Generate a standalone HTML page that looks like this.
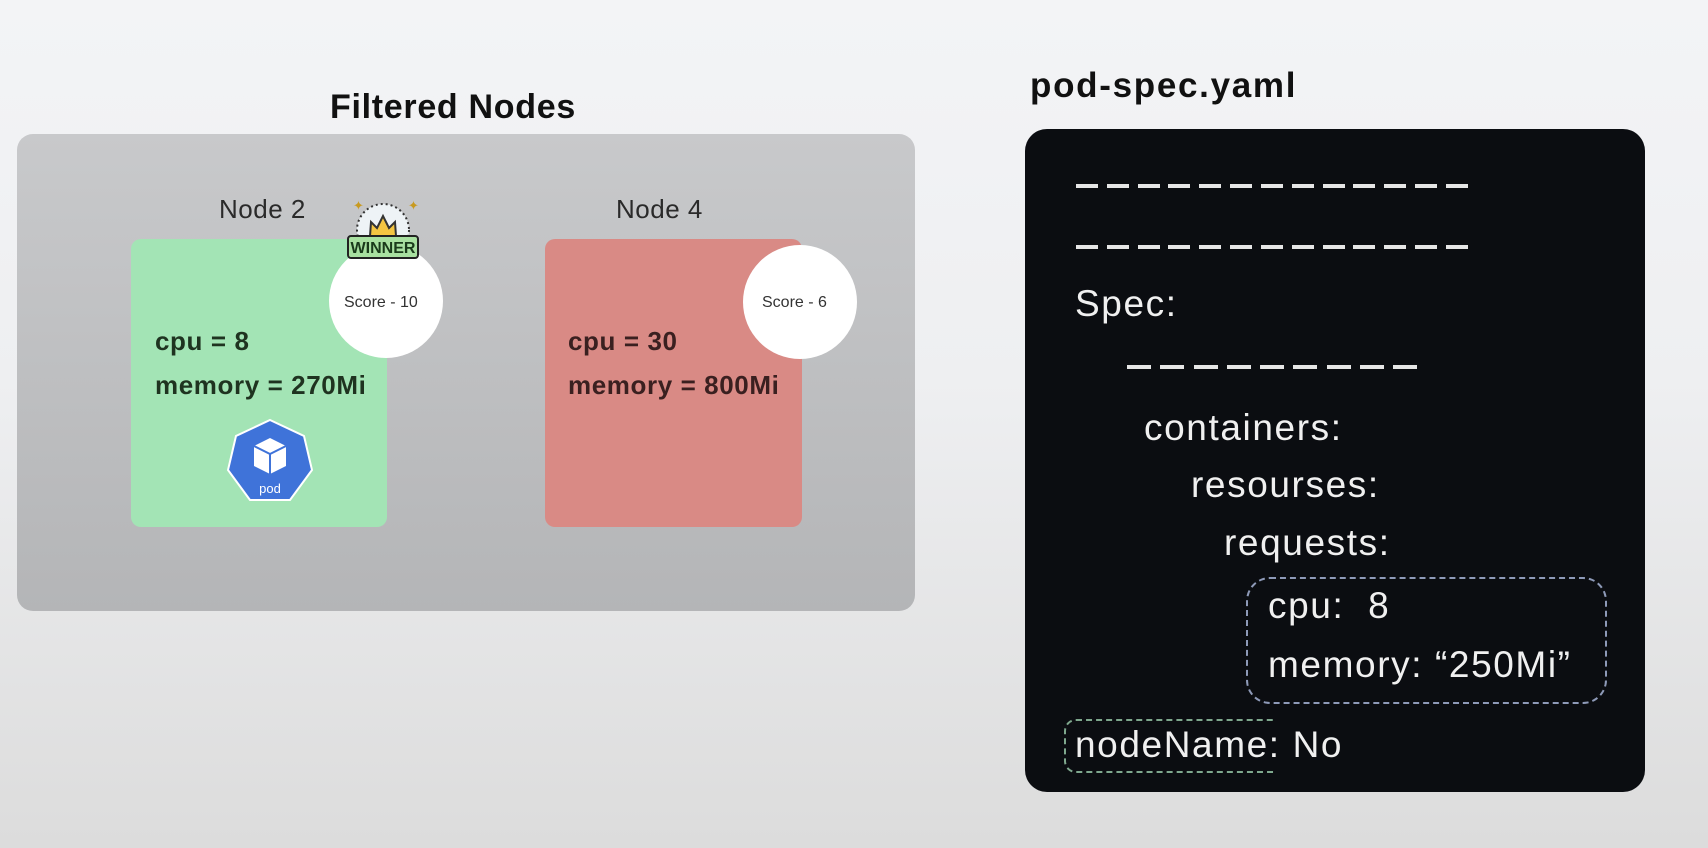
<!DOCTYPE html>
<html><head><meta charset="utf-8"><style>
*{margin:0;padding:0;box-sizing:border-box}
body{width:1708px;height:848px;overflow:hidden;position:relative;font-family:"Liberation Sans",sans-serif;background:linear-gradient(180deg,#f3f4f6 0%,#eeeff1 45%,#dcdcdc 100%)}
.abs{position:absolute}
.t{position:absolute;white-space:nowrap;line-height:1}
.dash{position:absolute;height:4px;display:flex;justify-content:space-between}
.dash i{display:block;height:4px;background:#e6e6e6}
.w{color:#f0f0f0;font-size:37px;letter-spacing:1.6px}
</style></head><body>
<div class="t" style="left:330px;top:90px;font-size:34px;font-weight:bold;color:#111;letter-spacing:0.7px">Filtered Nodes</div>
<div class="abs" style="left:17px;top:134px;width:898px;height:477px;border-radius:16px;background:linear-gradient(180deg,#c8c9cb,#b4b5b7)"></div>
<div class="t" style="left:219px;top:196px;font-size:26px;color:#2a2a2a;letter-spacing:0.5px">Node 2</div>
<div class="t" style="left:616px;top:196px;font-size:26px;color:#2a2a2a;letter-spacing:0.5px">Node 4</div>
<div class="abs" style="left:131px;top:239px;width:256px;height:288px;border-radius:10px;background:#a3e4b5"></div>
<div class="abs" style="left:545px;top:239px;width:257px;height:288px;border-radius:10px;background:#d98a85"></div>
<div class="abs" style="left:329px;top:244px;width:114px;height:114px;border-radius:50%;background:#fff"></div>
<div class="abs" style="left:743px;top:245px;width:114px;height:114px;border-radius:50%;background:#fff"></div>
<div class="t" style="left:344px;top:295px;font-size:16px;color:#333">Score - 10</div>
<div class="t" style="left:762px;top:295px;font-size:16px;color:#333">Score - 6</div>
<svg class="abs" style="left:345px;top:194px" width="82" height="70">
<circle cx="38" cy="36" r="26" fill="#eef3f6" stroke="#333" stroke-width="2" stroke-dasharray="2 3"/>
<path d="M25 42 L26 28 L32 34 L38 22 L44 34 L50 28 L51 42 Z" fill="#f4c542" stroke="#333" stroke-width="2"/>
<rect x="3" y="42" width="70" height="22" rx="3" fill="#a8e0a0" stroke="#222" stroke-width="2"/>
<text x="38" y="59" text-anchor="middle" font-family="Liberation Sans" font-weight="bold" font-size="16" fill="#1a3a1a">WINNER</text>
<text x="8" y="16" font-size="13" fill="#c89a20">✦</text><text x="63" y="16" font-size="13" fill="#c89a20">✦</text>
</svg>
<div class="t" style="left:155px;top:328px;font-size:26px;font-weight:bold;color:#1f3320;letter-spacing:0.6px">cpu = 8</div>
<div class="t" style="left:155px;top:372px;font-size:26px;font-weight:bold;color:#1f3320;letter-spacing:0.6px">memory = 270Mi</div>
<div class="t" style="left:568px;top:328px;font-size:26px;font-weight:bold;color:#3a2020;letter-spacing:0.6px">cpu = 30</div>
<div class="t" style="left:568px;top:372px;font-size:26px;font-weight:bold;color:#3a2020;letter-spacing:0.6px">memory = 800Mi</div>
<svg class="abs" style="left:226px;top:418px" width="88" height="86">
<polygon points="44,2 78,18 86,52 64,82 24,82 2,52 10,18" fill="#3f73d9" stroke="#fff" stroke-width="2"/>
<path d="M44 20 L60 28 L60 48 L44 56 L28 48 L28 28 Z" fill="#fff"/>
<path d="M28 28 L44 36 L60 28 M44 36 L44 56" stroke="#3f73d9" stroke-width="2" fill="none"/>
<text x="44" y="75" text-anchor="middle" font-family="Liberation Sans" font-size="13" fill="#fff">pod</text>
</svg>
<div class="t" style="left:1030px;top:68px;font-size:35px;font-weight:bold;color:#111;letter-spacing:1.7px">pod-spec.yaml</div>
<div class="abs" style="left:1025px;top:129px;width:620px;height:663px;border-radius:22px;background:#0b0d11"></div>
<div class="dash" style="left:1076px;top:184px;width:392px"><i style="width:22px"></i><i style="width:22px"></i><i style="width:22px"></i><i style="width:22px"></i><i style="width:22px"></i><i style="width:22px"></i><i style="width:22px"></i><i style="width:22px"></i><i style="width:22px"></i><i style="width:22px"></i><i style="width:22px"></i><i style="width:22px"></i><i style="width:22px"></i></div>
<div class="dash" style="left:1076px;top:245px;width:392px"><i style="width:22px"></i><i style="width:22px"></i><i style="width:22px"></i><i style="width:22px"></i><i style="width:22px"></i><i style="width:22px"></i><i style="width:22px"></i><i style="width:22px"></i><i style="width:22px"></i><i style="width:22px"></i><i style="width:22px"></i><i style="width:22px"></i><i style="width:22px"></i></div>
<div class="t w" style="left:1075px;top:285px">Spec:</div>
<div class="dash" style="left:1127px;top:365px;width:290px"><i style="width:24px"></i><i style="width:24px"></i><i style="width:24px"></i><i style="width:24px"></i><i style="width:24px"></i><i style="width:24px"></i><i style="width:24px"></i><i style="width:24px"></i><i style="width:24px"></i></div>
<div class="t w" style="left:1144px;top:409px">containers:</div>
<div class="t w" style="left:1191px;top:466px">resourses:</div>
<div class="t w" style="left:1224px;top:524px">requests:</div>
<div class="abs" style="left:1246px;top:577px;width:361px;height:127px;border:2px dashed #8e9ab8;border-radius:24px"></div>
<div class="t w" style="left:1268px;top:587px">cpu:&nbsp; 8</div>
<div class="t w" style="left:1268px;top:646px">memory: “250Mi”</div>
<div class="abs" style="left:1064px;top:719px;width:210px;height:54px;border:2px dashed #7fa88e;border-right:none;border-radius:12px 0 0 12px"></div>
<div class="t w" style="left:1075px;top:726px">nodeName: No</div>
</body></html>
